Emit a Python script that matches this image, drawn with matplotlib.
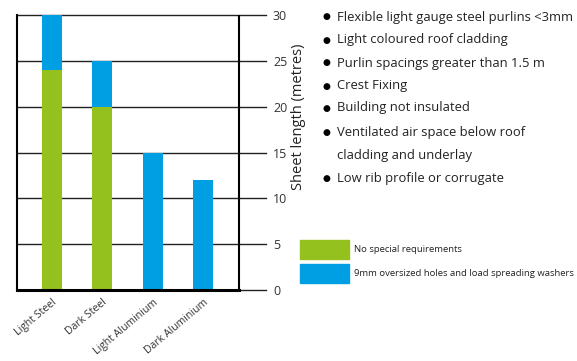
import matplotlib
matplotlib.use("Agg")
import matplotlib.pyplot as plt
from matplotlib.patches import Rectangle

categories = ["Light Steel", "Dark Steel", "Light Aluminium", "Dark Aluminium"]
no_special = [24, 20, 0, 0]
oversized = [6, 5, 15, 12]
yticks = [0, 5, 10, 15, 20, 25, 30]
bullets = [
    "Flexible light gauge steel purlins <3mm",
    "Light coloured roof cladding",
    "Purlin spacings greater than 1.5 m",
    "Crest Fixing",
    "Building not insulated",
    "Ventilated air space below roof",
    "Low rib profile or corrugate",
]
legend_labels = ["No special requirements", "9mm oversized holes and load spreading washers"]

GREEN = "#95C11F"
BLUE = "#009FE3"
W, H = 577, 361

plt.rcParams['font.family'] = ['Open Sans', 'DejaVu Sans']
fig = plt.figure(figsize=(W / 100, H / 100), dpi=100)
ax = fig.add_axes([17 / W, 1 - 290 / H, 249 / W, 275 / H])

x = list(range(len(categories)))
ax.bar(x, no_special, width=0.4, color=GREEN, zorder=3)
ax.bar(x, oversized, width=0.4, bottom=no_special, color=BLUE, zorder=3)

ax.set_xlim(-0.69, 4.24)
ax.set_ylim(0, 30)
for t in yticks:
    ax.axhline(t, color="#222222", lw=1, zorder=2, clip_on=False)
ax.axvline(3.7, color="black", lw=1.5, zorder=4)
ax.plot([-0.69, 3.7], [0, 0], color="black", lw=2.2, zorder=5, clip_on=False)

for s in ["top", "right", "bottom"]:
    ax.spines[s].set_visible(False)
ax.spines["left"].set_linewidth(1.5)
ax.spines["left"].set_color("black")

ax.yaxis.tick_right()
ax.set_yticks(yticks)
ax.tick_params(axis="y", length=0, pad=5, labelsize=9, labelcolor="#333333")
ax.set_xticks(x)
ax.set_xticklabels(categories, rotation=40, ha="right", rotation_mode="anchor",
                   fontsize=7.6, color="#333333")
ax.tick_params(axis="x", length=0, pad=5)

fig.text(298 / W, 1 - 117 / H, "Sheet length (metres)", rotation=90,
         ha="center", va="center", fontsize=10.5, color="#222222")

ys = [17, 40, 63, 86, 108, 132, 179]
for label, yy in zip(bullets, ys):
    fig.text(326 / W, 1 - yy / H, "●", family="DejaVu Sans", fontsize=6.5,
             ha="center", va="center", color="black")
    fig.text(337 / W, 1 - yy / H, label, fontsize=9.4, ha="left", va="center",
             color="#222222")
fig.text(337 / W, 1 - 155 / H, "cladding and underlay", fontsize=9.4, ha="left",
         va="center", color="#222222")

for col, y0, lab in [(GREEN, 240, legend_labels[0]), (BLUE, 264, legend_labels[1])]:
    fig.add_artist(Rectangle((300 / W, 1 - (y0 + 19) / H), 49 / W, 19 / H,
                             transform=fig.transFigure, color=col))
    fig.text(354 / W, 1 - (y0 + 9.5) / H, lab, fontsize=6.8, ha="left",
             va="center", color="#222222")

fig.savefig("out.png", dpi=100)
